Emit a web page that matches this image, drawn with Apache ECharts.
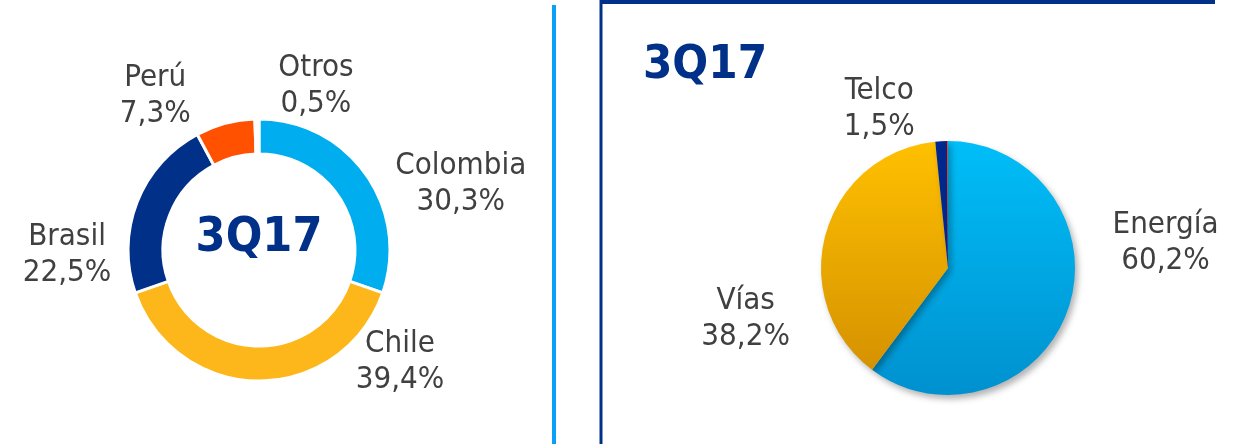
<!DOCTYPE html>
<html>
<head>
<meta charset="utf-8">
<script src="https://cdn.jsdelivr.net/npm/echarts@6/dist/echarts.min.js"></script>
<style>
  html, body { margin: 0; padding: 0; background: #ffffff; }
  #chart { width: 1245px; height: 444px; }
</style>
</head>
<body>
<div id="chart"></div>
<script>
// datos por país (anillo izquierdo)
var paisNames = ['Colombia', 'Chile', 'Brasil', 'Perú', 'Otros'];
var paisValues = [30.3, 39.4, 22.5, 7.3, 0.5];
// datos por sector (torta derecha)
var sectorNames = ['Energía', 'Vías', 'Telco', 'Otro'];
var sectorValues = [60.2, 38.2, 1.5, 0.1];
var periodo = '3Q17';

// estilos
var paisColors = ['#00AEEF', '#FDB71A', '#003087', '#FF5100', '#ffffff'];
var sectorColors = [
  ['#00BEF8', '#0091CF'],
  ['#FFC000', '#D59200'],
  ['#00288C', '#00288C'],
  ['#FF2A00', '#FF2A00']
];
// desplazamiento de etiquetas (dx, dy)
var paisOffsets = [[95, 10], [141, -19], [-70, 53], [-70, -27], [59, -33]];
var sectorOffsets = [[97, -65], [-80, 85], [-62, -32], [0, 0]];

var fmt = function (p) {
  return p.name + '\n' + p.value.toFixed(1).replace('.', ',') + '%';
};

var labelFont = {
  color: '#404040',
  fontFamily: 'DejaVu Sans Condensed',
  fontSize: 31,
  lineHeight: 36
};

var chart = echarts.init(document.getElementById('chart'));

chart.setOption({
  animation: false,
  graphic: [
    { type: 'line', shape: { x1: 554, y1: 5, x2: 554, y2: 444 }, style: { stroke: '#0AA0F8', lineWidth: 4 } },
    { type: 'line', shape: { x1: 601, y1: 0, x2: 601, y2: 444 }, style: { stroke: '#003087', lineWidth: 3 } },
    { type: 'line', shape: { x1: 600, y1: 2, x2: 1215, y2: 2 }, style: { stroke: '#003087', lineWidth: 4 } },
    { type: 'text', x: 259, y: 239, style: { text: periodo, align: 'center', verticalAlign: 'middle',
        fill: '#003087', fontFamily: 'DejaVu Sans Condensed', fontWeight: 'bold', fontSize: 48 } },
    { type: 'text', x: 705, y: 66, style: { text: periodo, align: 'center', verticalAlign: 'middle',
        fill: '#003087', fontFamily: 'DejaVu Sans Condensed', fontWeight: 'bold', fontSize: 47 } }
  ],
  series: [
    {
      type: 'pie',
      center: [259, 250],
      radius: [96, 131],
      startAngle: 90,
      clockwise: true,
      avoidLabelOverlap: false,
      itemStyle: { borderColor: '#ffffff', borderWidth: 3 },
      label: Object.assign({ show: true, position: 'outside', formatter: fmt, distanceToLabelLine: 0 }, labelFont),
      labelLine: { show: false, length: 0, length2: 0 },
      labelLayout: function (params) {
        var o = paisOffsets[params.dataIndex];
        return { align: 'center', dx: o[0], dy: o[1] };
      },
      emphasis: { disabled: true },
      data: paisNames.map(function (n, i) {
        return { name: n, value: paisValues[i], itemStyle: { color: paisColors[i] } };
      })
    },
    {
      type: 'pie',
      center: [948, 268],
      radius: [0, 127],
      startAngle: 90,
      clockwise: true,
      avoidLabelOverlap: false,
      itemStyle: { shadowBlur: 6, shadowOffsetX: 3, shadowOffsetY: 4, shadowColor: 'rgba(0,0,0,0.3)' },
      label: Object.assign({ show: true, position: 'outside', formatter: fmt, distanceToLabelLine: 0 }, labelFont),
      labelLine: { show: false, length: 0, length2: 0 },
      labelLayout: function (params) {
        var o = sectorOffsets[params.dataIndex];
        return { align: 'center', dx: o[0], dy: o[1] };
      },
      emphasis: { disabled: true },
      data: sectorNames.map(function (n, i) {
        return {
          name: n,
          value: sectorValues[i],
          label: { show: i < 3 },
          itemStyle: {
            color: new echarts.graphic.LinearGradient(0, 0, 0, 1, [
              { offset: 0, color: sectorColors[i][0] },
              { offset: 1, color: sectorColors[i][1] }
            ])
          }
        };
      })
    }
  ]
});
</script>
</body>
</html>
